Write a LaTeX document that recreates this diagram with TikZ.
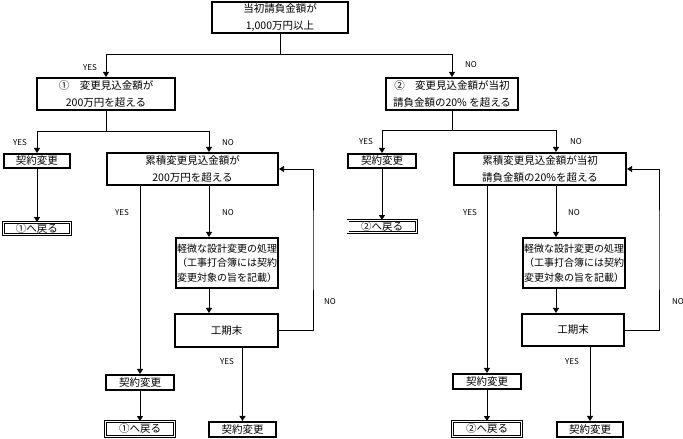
\documentclass[tikz,border=0pt]{standalone}
\usepackage{fontspec}
\setmainfont{Noto Sans CJK JP}
\usetikzlibrary{arrows.meta,calc}

\begin{document}
\begin{tikzpicture}[x=1pt,y=-1pt,
  font=\fontsize{10.5}{16.5}\selectfont,
  dec/.style={draw,line width=1.6pt,align=center,inner sep=1pt},
  ret/.style={draw,double,double distance=1.4pt,line width=0.6pt,
              inner sep=0.5pt,align=center},
  lbl/.style={font=\fontsize{8}{8}\selectfont},
  ln/.style={line width=0.8pt},
  arr/.style={ln,-{Triangle[width=6pt,length=5pt]}}]

  \useasboundingbox (0,0) rectangle (683,439);

  \node[dec,minimum width=135.5pt,minimum height=31.5pt] (top) at (280,17.5)
       {当初請負金額が\\1,000万円以上};

  % left branch
  \node[dec,minimum width=138.5pt,minimum height=32.5pt] (q1) at (106,94)
       {①\quad 変更見込金額が\\200万円を超える};
  \node[dec,minimum width=66.5pt,minimum height=14.5pt] (kei1a) at (37,161) {契約変更};
  \node[ret,minimum width=67.4pt,minimum height=12.4pt] (back1a) at (37,228.5) {①へ戻る};
  \node[dec,minimum width=171.5pt,minimum height=32.5pt] (cum1) at (192.5,169)
       {累積変更見込金額が\\200万円を超える};
  \node[dec,minimum width=102.5pt,minimum height=50.5pt,
        font=\fontsize{10}{14.5}\selectfont] (small1) at (227,263)
       {軽微な設計変更の処理\\（工事打合簿には契約\\変更対象の旨を記載）};
  \node[dec,minimum width=103.5pt,minimum height=33.5pt] (end1) at (226.5,330.5) {工期末};
  \node[dec,minimum width=68.5pt,minimum height=15.5pt] (kei1b) at (140,382.5) {契約変更};
  \node[ret,minimum width=69.4pt,minimum height=15.4pt] (back1b) at (140,429) {①へ戻る};
  \node[dec,minimum width=67.5pt,minimum height=15.5pt] (kei1c) at (242.5,429.5) {契約変更};

  % right branch
  \node[dec,minimum width=132.5pt,minimum height=32.5pt] (q2) at (452,94)
       {②\quad 変更見込金額が当初\\請負金額の20\% を超える};
  \node[dec,minimum width=68.5pt,minimum height=14.5pt] (kei2a) at (382,161) {契約変更};
  \node[ret,minimum width=68.4pt,minimum height=12.4pt] (back2a) at (382,226.5) {②へ戻る};
  \node[dec,minimum width=172.5pt,minimum height=32.5pt] (cum2) at (540,169)
       {累積変更見込金額が当初\\請負金額の20\%を超える};
  \node[dec,minimum width=102.5pt,minimum height=50.5pt,
        font=\fontsize{10}{14.5}\selectfont] (small2) at (574,263)
       {軽微な設計変更の処理\\（工事打合簿には契約\\変更対象の旨を記載）};
  \node[dec,minimum width=102.5pt,minimum height=32.5pt] (end2) at (573,330) {工期末};
  \node[dec,minimum width=68.5pt,minimum height=15.5pt] (kei2b) at (487,381.5) {契約変更};
  \node[ret,minimum width=69.4pt,minimum height=15.4pt] (back2b) at (487,429) {②へ戻る};
  \node[dec,minimum width=66.5pt,minimum height=15.5pt] (kei2c) at (590,429.5) {契約変更};

  \coordinate (j0) at (280,54);
  \coordinate (j1) at (106,131);
  \coordinate (k1) at (209,131);
  \coordinate (r1) at (313,250);
  \coordinate (j2) at (452,130);
  \coordinate (k2) at (556,130);
  \coordinate (r2) at (659,250);

  \draw[ln] (top) -- (j0);
  \draw[arr] (j0) -| (q1);
  \draw[arr] (j0) -| (q2);

  \draw[ln] (q1) -- (j1);
  \draw[arr] (j1) -| (kei1a);
  \draw[arr] (j1) -- (k1) -- (k1 |- cum1.north);
  \draw[arr] (kei1a) -- (back1a);
  \draw[arr] (cum1.south -| kei1b) -- (kei1b);
  \draw[arr] (cum1.south -| k1) -- (small1.north -| k1);
  \draw[arr] (small1.south -| k1) -- (end1.north -| k1);
  \draw[arr] (end1.south -| kei1c) -- (kei1c);
  \draw[arr] (kei1b) -- (back1b);
  \draw[arr] (end1.east) -| (r1) |- (cum1.east);

  \draw[ln] (q2) -- (j2);
  \draw[arr] (j2) -| (kei2a);
  \draw[arr] (j2) -- (k2) -- (k2 |- cum2.north);
  \draw[arr] (kei2a) -- (back2a);
  \draw[arr] (cum2.south -| kei2b) -- (kei2b);
  \draw[arr] (cum2.south -| k2) -- (small2.north -| k2);
  \draw[arr] (small2.south -| k2) -- (end2.north -| k2);
  \draw[arr] (end2.south -| kei2c) -- (kei2c);
  \draw[arr] (kei2b) -- (back2b);
  \draw[arr] (end2.east) -| (r2) |- (cum2.east);

  \node[lbl] (y0) at (90,68) {YES};
  \node[lbl] (n0) at (471,65) {NO};
  \node[lbl] (y1) at (20,143) {YES};
  \node[lbl] (n1) at (228,143) {NO};
  \node[lbl] (y2) at (366,142) {YES};
  \node[lbl] (n2) at (576,142) {NO};
  \node[lbl] (y3) at (122,213) {YES};
  \node[lbl] (n3) at (228,213) {NO};
  \node[lbl] (y4) at (470,213) {YES};
  \node[lbl] (n4) at (574,213) {NO};
  \node[lbl] (n5) at (330,302) {NO};
  \node[lbl] (y5) at (227,362) {YES};
  \node[lbl] (n6) at (678,302) {NO};
  \node[lbl] (y6) at (572,362) {YES};
\end{tikzpicture}
\end{document}
